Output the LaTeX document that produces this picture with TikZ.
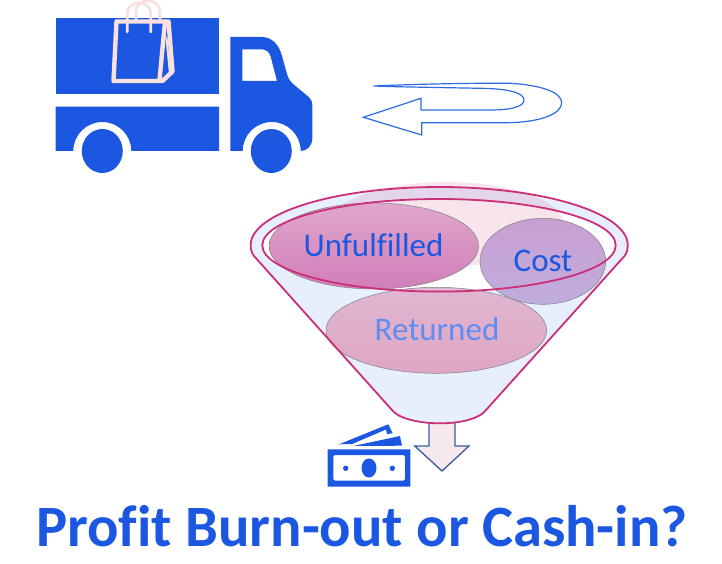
\documentclass[tikz,border=0pt]{standalone}
\usepackage{fontspec}
\setmainfont[RawFeature={-liga;-clig}]{Carlito}
\definecolor{truckblue}{HTML}{1B57E0}
\definecolor{bagpink}{HTML}{FAE0DE}
\definecolor{funnelblue}{HTML}{E8EFFC}
\definecolor{funnelline}{HTML}{CB2F78}
\definecolor{uturn}{HTML}{2F6BE0}
\definecolor{softblue}{HTML}{5F8DF0}
\definecolor{arrowline}{HTML}{3A5C9E}
\definecolor{arrowfill}{HTML}{F6E9EE}
\definecolor{unftop}{HTML}{E0A6CC}
\definecolor{unfbot}{HTML}{D07FB8}
\definecolor{rettop}{HTML}{E0B6D0}
\definecolor{retbot}{HTML}{DFA6C4}
\definecolor{costtop}{HTML}{C8A0D0}
\definecolor{costmid}{HTML}{B988C4}
\definecolor{costbot}{HTML}{C0ACDE}
\tikzset{
  truckfill/.style={fill=truckblue,draw=none},
  bagline/.style={draw=bagpink,line width=4.4pt,line join=round,line cap=round},
  funnelstroke/.style={draw=funnelline,line width=1.8pt},
  blob/.style={draw=black!50,line width=0.5pt},
  label/.style={inner sep=0pt,font=\fontsize{33}{35}\selectfont,text=truckblue}
}
\newcommand{\funnelpath}{(254,256) -- (392,410) .. controls (397,417) and (415,423.3) .. (440,423.3)
  .. controls (465,423.3) and (481,417) .. (486,410) -- (624.5,256)
  .. controls (627,253) and (627.7,249) .. (627.7,245)
  arc[start angle=0,end angle=-180,x radius=188.5,y radius=58]
  .. controls (250.7,249) and (251.5,253) .. (254,256) -- cycle}
\begin{document}
\begin{tikzpicture}[x=1pt,y=-1pt]
\useasboundingbox (0,0) rectangle (722,564);
% truck
\fill[truckfill] (55.7,18) rectangle (219,93.7);
\fill[truckfill,even odd rule] (55.7,106.7) -- (219,106.7) -- (219,151) -- (131.3,151)
  arc[start angle=0,end angle=-180,radius=29] -- (55.7,151) -- cycle;
\fill[truckfill] (102.3,151) ellipse[x radius=20.5,y radius=22];
\fill[truckfill,even odd rule] (230.3,37) -- (261.7,37) .. controls (272,37) and (279,45) .. (281.7,55)
  -- (287,74) .. controls (288,78) and (290,81) .. (293,84)
  -- (307,95.5) .. controls (310.5,98.5) and (312.3,101) .. (312.3,105) -- (312.3,138)
  .. controls (312.3,146) and (307,151) .. (300.7,151)
  arc[start angle=0,end angle=-180,radius=29] -- (230.3,151) -- cycle
  (242.3,49.3) -- (261,49.3) .. controls (266,49.3) and (269.5,52) .. (270.7,56.7) -- (277,81) -- (242.3,81) -- cycle;
\fill[truckfill] (271.3,151) ellipse[x radius=20.5,y radius=22];
% bag
\draw[bagline] (116.5,21.5) -- (168.5,21.5) -- (172.5,71.5) -- (162.5,81) -- (113.5,81) -- cycle;
\draw[bagline] (165,22) -- (159.5,80);
\draw[bagline,line width=2pt] (166.5,38) -- (170,74);
\draw[bagline,line width=2.8pt] (127.3,32) -- (127.3,14) .. controls (127.3,-1) and (150.7,-1) .. (150.7,14) -- (150.7,32);
\draw[bagline,line width=2.8pt] (136,19) -- (136,12) .. controls (136,-3) and (160,-3) .. (160,12) -- (160,19);
% u-turn arrow
\draw[uturn,line width=1.2pt,line join=miter] (373.3,86) .. controls (420,84) and (470,83) .. (510,83.3)
  .. controls (540,85) and (561.7,92) .. (561.7,102.7)
  .. controls (561.7,114) and (540,122.7) .. (505,122.7)
  -- (421.7,122.7) -- (421.7,135) -- (363.3,117.3) -- (421,98.3) -- (421,110) -- (490,110)
  .. controls (510,110) and (524,107) .. (524,100)
  .. controls (524,92) and (505,88.5) .. (480,88.3)
  .. controls (440,87.5) and (400,87) .. (373.3,86) -- cycle;
% down arrow
\draw[draw=arrowline,line width=1.3pt,fill=arrowfill]
  (429,420) -- (455,420) -- (455,446) -- (469,446) -- (442,471) -- (414.7,446) -- (429,446) -- cycle;
% money
\fill[truckfill,even odd rule] (327.7,449.3) rectangle (410.3,486.7)
  [rounded corners=2pt] (333.3,455) rectangle (405,480.7);
\fill[truckfill] (369,468) ellipse[x radius=7.5,y radius=9.5];
\fill[truckfill] (345.7,468.3) circle[radius=2.7];
\fill[truckfill] (392.3,468.3) circle[radius=2.7];
\fill[truckfill] (339,444.3) -- (388.3,424.3) -- (392.7,433.3) -- (387,434) -- (386,429.5) -- (352,444) -- cycle;
\fill[truckfill] (353.3,446) -- (400,436) -- (402,445.7) -- cycle;
% funnel body
\fill[funnelblue] \funnelpath;
\fill[white] (439,245.3) ellipse[x radius=176.7,y radius=46.3];
\fill[funnelline,opacity=0.13] (446.7,224) ellipse[x radius=117,y radius=42];
% blobs
\shade[blob,top color=rettop,bottom color=retbot] (436.3,330.3) ellipse[x radius=110.3,y radius=43];
\shade[blob,top color=unftop,bottom color=unfbot] (373.8,246) ellipse[x radius=104.8,y radius=43];
\shade[blob,top color=costtop,middle color=costmid,bottom color=costbot] (542.8,261.3) ellipse[x radius=62.8,y radius=43];
% funnel lines
\draw[funnelstroke] (439,245.3) ellipse[x radius=176.7,y radius=46.3];
\draw[funnelstroke,line join=round] \funnelpath;
% texts
\node[label] (unf) at (373.5,245) {Unfulfilled};
\node[label] (cost) at (543,260.5) {Cost};
\node[label,text=softblue] (ret) at (437,329) {Returned};
\node[inner sep=0pt,font=\fontsize{58.6}{60}\selectfont\bfseries,text=truckblue] (title) at (362,526) {Profit Burn-out or Cash-in?};
\end{tikzpicture}
\end{document}
